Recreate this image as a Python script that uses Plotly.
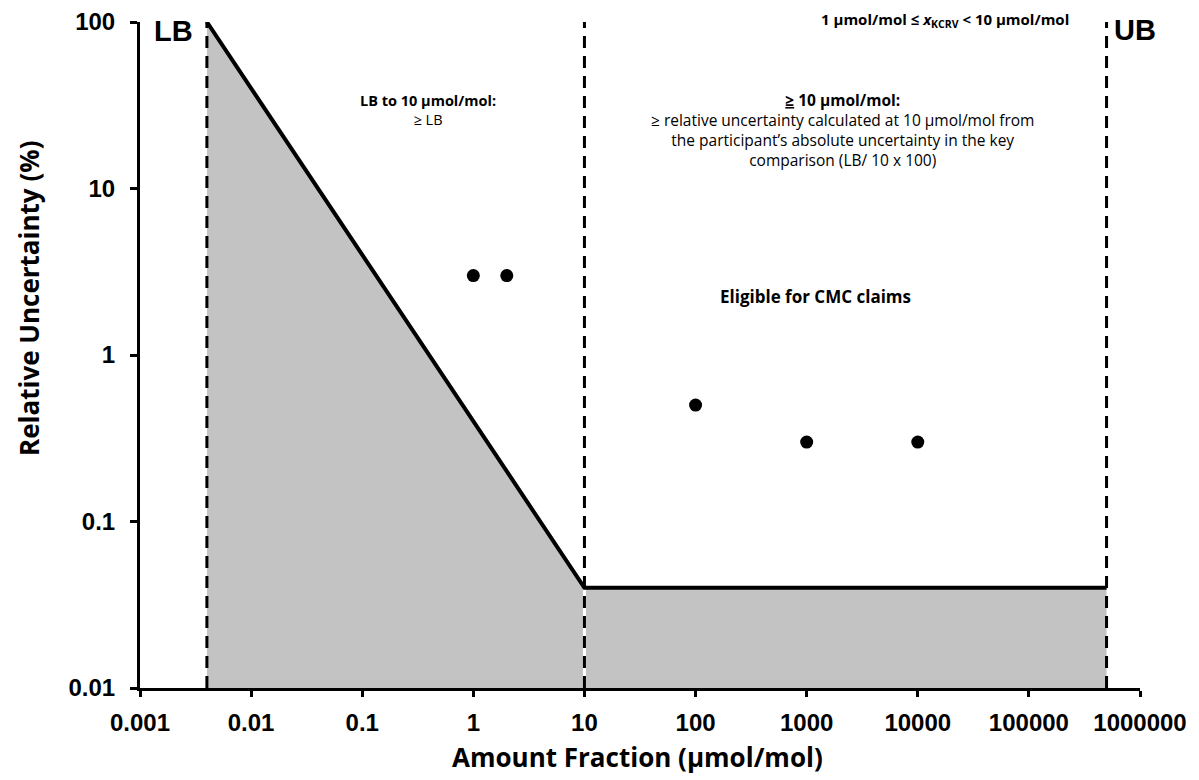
import plotly.graph_objects as go

# ---- data ----
lb_value = 0.004          # lower bound (µmol/mol)
break_value = 10          # break point (µmol/mol)
ub_value = 500000         # upper bound (µmol/mol)
boundary_x = [lb_value, break_value, ub_value]
boundary_y = [100, 0.04, 0.04]          # relative uncertainty (%)
points_x = [1, 2, 100, 1000, 10000]
points_y = [3, 3, 0.5, 0.3, 0.3]
x_ticks = [0.001, 0.01, 0.1, 1, 10, 100, 1000, 10000, 100000, 1000000]
x_tick_text = ["0.001", "0.01", "0.1", "1", "10", "100", "1000", "10000", "100000", "1000000"]
y_ticks = [0.01, 0.1, 1, 10, 100]
y_tick_text = ["0.01", "0.1", "1", "10", "100"]
y_min, y_max = 0.01, 100

fig = go.Figure()

# grey shaded area
fill_x = [boundary_x[0]] + boundary_x + [boundary_x[-1]]
fill_y = [y_min] + boundary_y + [y_min]
fig.add_trace(go.Scatter(x=fill_x, y=fill_y, fill="toself", fillcolor="#c3c3c3",
                         line=dict(width=0), mode="lines", hoverinfo="skip",
                         showlegend=False))

# vertical dashed lines
for i, xv in enumerate(boundary_x):
    if i == 1:
        fig.add_trace(go.Scatter(x=[xv, xv], y=[y_min, y_max], mode="lines",
                                 line=dict(color="white", width=3), showlegend=False,
                                 hoverinfo="skip", cliponaxis=False))
    fig.add_trace(go.Scatter(x=[xv, xv], y=[y_min, y_max], mode="lines",
                             line=dict(color="black", width=3, dash="12px,8px"),
                             showlegend=False, hoverinfo="skip", cliponaxis=False))

# boundary line
fig.add_trace(go.Scatter(x=boundary_x, y=boundary_y, mode="lines",
                         line=dict(color="black", width=4), showlegend=False,
                         cliponaxis=False))

# data points
fig.add_trace(go.Scatter(x=points_x, y=points_y, mode="markers",
                         marker=dict(color="black", size=13), showlegend=False))

tick_font = dict(family="Liberation Sans, Arial", size=24, color="black")
fig.update_xaxes(type="log", range=[-3, 6], tickvals=x_ticks,
                 ticktext=["<b>%s</b>" % t for t in x_tick_text],
                 showgrid=False, zeroline=False, showline=True, linecolor="black",
                 linewidth=3, ticks="outside", ticklen=6, tickwidth=3, tickcolor="black",
                 tickfont=tick_font, automargin=False, ticklabelstandoff=5)
fig.update_yaxes(type="log", range=[-2, 2], tickvals=y_ticks,
                 ticktext=["<b>%s</b>" % t for t in y_tick_text],
                 showgrid=False, zeroline=False, showline=True, linecolor="black",
                 linewidth=3, ticks="outside", ticklen=7, tickwidth=3, tickcolor="black",
                 tickfont=tick_font, automargin=False, ticklabelstandoff=10)

# page body has an 8px margin: compensate so the plot area lands on screen x 140..1140, y 22..688
OFF = 8
W, H = 1199 - OFF, 780 - OFF
X0, X1, Y0, Y1 = 140, 1140, 22, 688
L, T = X0 - OFF, Y0 - OFF
R, B = 1199 - X1, 780 - Y1

def px(x):
    return (x - X0) / (X1 - X0)

def py(y):
    return (Y1 - y) / (Y1 - Y0)

cal = "Open Sans, sans-serif"
ann = []
ann.append(dict(x=px(173), y=py(31), text="<b>LB</b>",
                font=dict(family="Liberation Sans, Arial", size=29, color="black")))
ann.append(dict(x=px(1135), y=py(30), text="<b>UB</b>",
                font=dict(family="Liberation Sans, Arial", size=29, color="black")))
ann.append(dict(x=px(945), y=py(20),
                text="<b>1 µmol/mol ≤ <i>x</i><sub>KCRV</sub> < 10 µmol/mol</b>",
                font=dict(family=cal, size=15, color="black")))
ann.append(dict(x=px(428), y=py(110), text="<b>LB to 10 µmol/mol:</b><br>≥ LB",
                font=dict(family=cal, size=14.5, color="black")))
ann.append(dict(x=px(842), y=py(130),
                text="<b><span style='text-decoration:underline'>≥</span> 10 µmol/mol:</b><br>"
                     "≥ relative uncertainty calculated at 10 µmol/mol from<br>"
                     "the participant’s absolute uncertainty in the key<br>"
                     "comparison (LB/ 10 x 100)",
                font=dict(family=cal, size=15.5, color="black")))
ann.append(dict(x=px(815), y=py(296), text="<b>Eligible for CMC claims</b>",
                font=dict(family=cal, size=17, color="black")))
ann.append(dict(x=px(637), y=py(757), text="<b>Amount Fraction (µmol/mol)</b>",
                font=dict(family=cal, size=26, color="black")))
ann.append(dict(x=px(29), y=py(299), text="<b>Relative Uncertainty (%)</b>", textangle=-90,
                font=dict(family=cal, size=26, color="black")))
for a in ann:
    a.update(xref="paper", yref="paper", showarrow=False, xanchor="center", yanchor="middle")

fig.update_layout(width=W, height=H, margin=dict(l=L, r=R, t=T, b=B),
                  paper_bgcolor="white", plot_bgcolor="white", annotations=ann,
                  showlegend=False, template="none")

fig.write_html("out.html")
